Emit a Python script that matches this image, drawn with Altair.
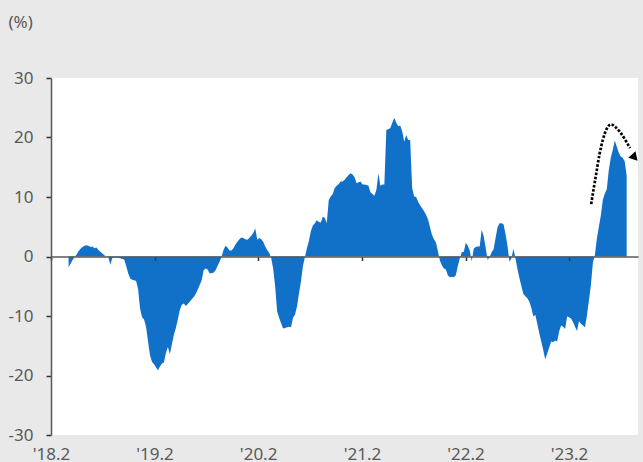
import altair as alt
import pandas as pd

# Weekly year-on-year change (%), first observation 2018-04-04
start_date = "2018-04-04"
values = [
    -1.8, -1.2, -0.6, -0.1, 0.3, 0.9, 1.3, 1.6, 1.8, 1.9,
    1.8, 1.6, 1.7, 1.4, 1.5, 1.1, 0.8, 0.5, 0.2, 0.0,
    -0.1, -1.4, -0.3, -0.1, -0.2, -0.2, -0.3, -0.4, -0.5, -1.6,
    -2.8, -3.7, -3.9, -4.0, -4.1, -5.5, -8.8, -10.2, -10.6, -11.8,
    -14.3, -16.6, -17.7, -18.1, -18.6, -19.1, -18.5, -18.0, -17.8, -16.2,
    -15.2, -16.4, -14.8, -13.2, -12.0, -10.6, -9.0, -8.1, -7.9, -8.3,
    -8.0, -7.6, -7.2, -6.8, -6.3, -5.6, -4.8, -4.0, -2.3, -2.0,
    -2.2, -2.8, -2.8, -2.7, -2.3, -1.6, -0.9, -0.1, 1.1, 1.8,
    1.5, 1.0, 1.0, 1.4, 2.0, 2.5, 2.9, 3.2, 3.1, 2.9,
    2.8, 3.1, 3.5, 4.0, 4.7, 2.8, 3.1, 2.9, 2.5, 1.7,
    1.1, 0.6, -0.2, -2.0, -5.0, -9.2, -10.3, -11.2, -12.1, -12.0,
    -11.9, -11.8, -11.9, -10.3, -9.8, -8.4, -6.2, -4.2, -1.6, -0.1,
    1.4, 2.6, 4.3, 5.2, 5.6, 6.1, 5.8, 5.7, 6.7, 6.5,
    5.6, 9.5, 10.1, 10.5, 11.5, 11.9, 12.2, 12.6, 12.6, 12.9,
    13.3, 13.7, 14.0, 13.8, 13.3, 12.3, 12.5, 12.6, 12.1, 12.1,
    12.0, 11.9, 10.8, 10.5, 10.2, 11.2, 14.0, 11.9, 12.1, 12.1,
    21.3, 21.4, 21.6, 22.5, 23.3, 22.5, 21.9, 22.0, 21.0, 19.3,
    20.4, 19.6, 19.6, 11.5, 10.1, 10.0, 9.2, 8.6, 8.1, 7.6,
    7.0, 6.2, 4.9, 3.6, 2.9, 2.3, 0.8, -0.7, -1.5, -2.0,
    -2.2, -3.2, -3.5, -3.4, -3.5, -3.1, -1.6, -0.3, 0.7, 0.8,
    2.3, 1.8, 1.0, -0.8, 1.3, 1.6, 1.7, 1.7, 4.5, 3.4,
    1.5, -0.6, -0.1, 0.7, 1.2, 3.1, 4.9, 5.6, 5.6, 5.4,
    3.8, 1.8, -0.9, -0.3, 1.3, -0.3, -2.1, -3.6, -5.0, -6.3,
    -6.7, -7.0, -7.6, -8.6, -10.1, -9.8, -11.3, -12.9, -14.3, -15.7,
    -17.3, -16.3, -15.3, -14.3, -14.4, -14.1, -14.3, -12.6, -11.6, -11.8,
    -12.2, -10.1, -10.2, -10.4, -11.0, -11.8, -12.5, -10.9, -11.3, -11.6,
    -11.9, -9.9, -7.4, -4.8, -1.0, 0.2, 3.0, 5.0, 6.9, 9.5,
    10.6, 11.3, 14.5, 16.6, 17.9, 19.5, 18.5, 17.5, 16.8, 16.6,
    16.0, 13.6,
]
dates = pd.date_range(start_date, periods=len(values), freq="7D").strftime("%Y-%m-%d")

# Dotted trend arrow drawn over the latest rebound
arrow_dates = ["2023-04-20", "2023-04-28", "2023-05-07", "2023-05-19", "2023-05-31",
               "2023-06-14", "2023-06-29", "2023-07-13", "2023-07-31", "2023-08-18",
               "2023-09-04"]
arrow_values = [8.8, 11.2, 13.7, 17.1, 19.6, 21.5, 22.2, 21.8, 20.9, 19.6, 18.2]
head_date = ["2023-09-17"]
head_value = [16.8]

tick_years = [2018, 2019, 2020, 2021, 2022, 2023]
y_ticks = [-30, -20, -10, 0, 10, 20, 30]

df = pd.DataFrame({"date": dates, "value": values})
arrow_df = pd.DataFrame({"date": arrow_dates, "value": arrow_values, "seq": range(len(arrow_dates))})
head_df = pd.DataFrame({"date": head_date, "value": head_value})

W, H = 587, 357
TXT = "#595959"
FONT = "Noto Sans"

x_scale = alt.Scale(
    type="utc",
    domain=[alt.DateTime(year=2018, month=2, date=1, utc=True),
            alt.DateTime(year=2023, month=10, date=2, utc=True)],
)
y_scale = alt.Scale(domain=[-30, 30], nice=False)

x_axis = alt.Axis(
    values=[alt.DateTime(year=y, month=2, date=1, utc=True) for y in tick_years],
    labelExpr="\"'\" + utcFormat(datum.value, '%y') + '.' + (utcmonth(datum.value) + 1)",
    offset=-H / 2,
    domain=True,
    domainColor=TXT,
    domainWidth=1.5,
    ticks=True,
    tickSize=4,
    tickColor="#333333",
    tickWidth=1.5,
    labelPadding=186,
    labelAngle=0,
    labelAlign="center",
    labelBaseline="top",
    labelColor=TXT,
    labelFont=FONT,
    labelFontSize=17,
    labelOverlap=False,
    grid=False,
    title=None,
    zindex=1,
)

y_axis = alt.Axis(
    values=y_ticks,
    labelExpr="'' + datum.value",
    domain=True,
    domainColor=TXT,
    domainWidth=1.5,
    ticks=True,
    tickSize=5,
    tickColor="#333333",
    tickWidth=1.5,
    labelPadding=13,
    labelColor=TXT,
    labelFont=FONT,
    labelFontSize=17,
    grid=False,
    title="(%)",
    titleAngle=0,
    titleAlign="left",
    titleBaseline="middle",
    titleX=-43,
    titleY=-56,
    titleColor=TXT,
    titleFont=FONT,
    titleFontSize=17,
    titleFontWeight="normal",
    zindex=1,
)

area = alt.Chart(df).mark_area(color="#1170C8", interpolate="linear").encode(
    x=alt.X("date:T", scale=x_scale, axis=x_axis),
    y=alt.Y("value:Q", scale=y_scale, axis=y_axis),
)

arrow = alt.Chart(arrow_df).mark_line(
    color="black", strokeWidth=2.7, strokeDash=[2.6, 1.6], strokeCap="butt", interpolate="monotone"
).encode(
    x=alt.X("date:T", scale=x_scale),
    y=alt.Y("value:Q", scale=y_scale),
    order="seq:Q",
)

head = alt.Chart(head_df).mark_point(
    shape="triangle", filled=True, color="black", opacity=1, size=95, angle=138
).encode(
    x=alt.X("date:T", scale=x_scale),
    y=alt.Y("value:Q", scale=y_scale),
)

chart = (
    alt.layer(area, arrow, head)
    .properties(
        width=W,
        height=H,
        autosize=alt.AutoSizeParams(type="none"),
        padding={"left": 51, "top": 78, "right": 5, "bottom": 27},
        background="#E9E9E9",
    )
    .configure_view(fill="white", stroke=None)
)

chart.save("out.html", embed_options={"renderer": "svg", "actions": False})
